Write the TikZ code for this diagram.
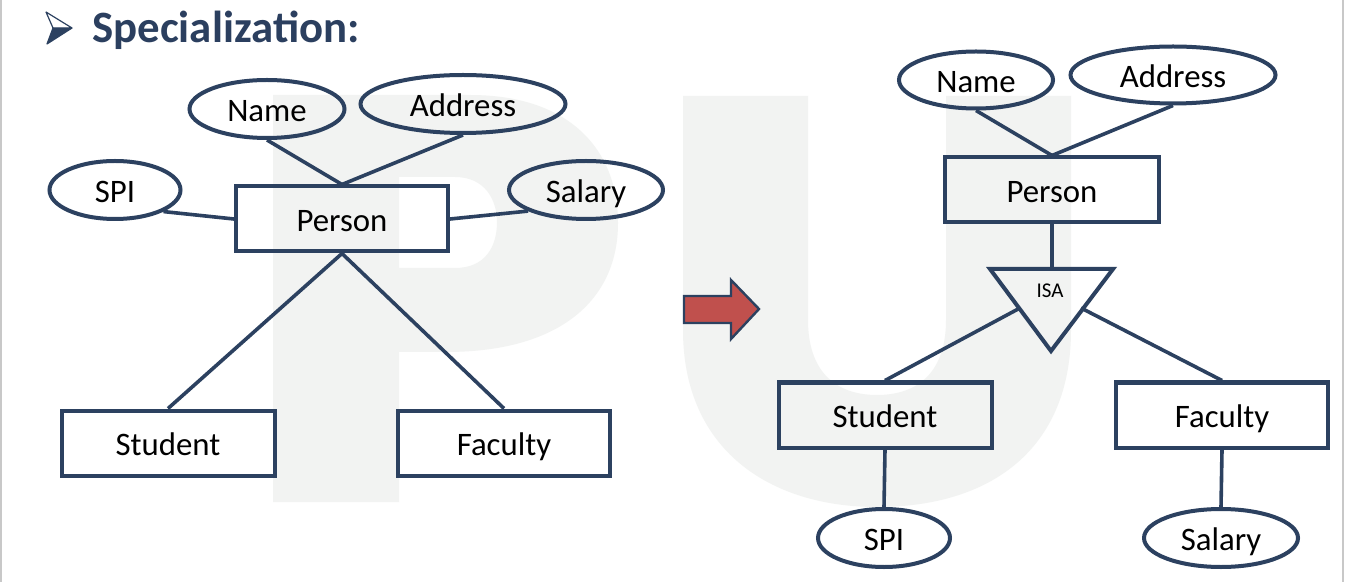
\documentclass[tikz,border=0pt]{standalone}
\usepackage{fontspec}
\setmainfont{Carlito}
\usetikzlibrary{shapes.geometric}
\definecolor{navy}{HTML}{2C4160}
\definecolor{titleblue}{HTML}{2B3F5F}
\definecolor{wmark}{HTML}{F2F3F2}
\definecolor{arrowred}{HTML}{C0504D}
\definecolor{edgegray}{HTML}{C8C8C8}
\begin{document}
\begin{tikzpicture}[x=0.5pt,y=-0.5pt,
  lbl/.style={font=\fontsize{16.4}{18}\selectfont,text height=12.1pt,text depth=0pt},
  ent/.style={lbl,draw=navy,line width=2pt,rectangle,inner sep=0pt,minimum height=32.5pt},
  attr/.style={lbl,draw=navy,line width=2pt,ellipse,inner sep=0pt,minimum height=29pt},
  conn/.style={draw=navy,line width=1.8pt}]
\useasboundingbox (0,0) rectangle (1348,582);
\fill[white] (0,0) rectangle (1348,582);
% watermark P
\fill[wmark,even odd rule] (273,95) -- (470,95) .. controls (570,95) and (618,150) .. (618,223) .. controls (618,300) and (560,352) .. (446,352) -- (399,352) -- (399,502) -- (273,502) -- cycle
  (399,177) -- (455,177) .. controls (485,177) and (497,200) .. (497,222) .. controls (497,247) and (485,268) .. (455,268) -- (399,268) -- cycle;
% watermark U
\fill[wmark] (683,96) -- (683,330) .. controls (683,450) and (770,507) .. (877,507) .. controls (990,507) and (1071,450) .. (1071,330) -- (1071,96) -- (946,96) -- (946,320) .. controls (946,370) and (920,395) .. (877,395) .. controls (834,395) and (808,370) .. (808,320) -- (808,96) -- cycle;
% page edges
\draw[edgegray,line width=0.6pt] (1,0) -- (1,582);
\draw[edgegray,line width=0.6pt] (1343,0) -- (1343,582);
% title
\fill[navy] (53,28) -- (72,28) -- (47,44) -- cycle;
\draw[navy,line width=0.6pt,line join=round] (46,12) -- (72,28) -- (53,28) -- cycle;
\draw[navy,line width=0.6pt,line join=round] (53,28) -- (47,44) -- (72,28);
\node[anchor=base west,inner sep=0pt,text=titleblue,font=\fontsize{22.4}{26}\selectfont\bfseries] (title) at (92,43) {Specialization:};
% left diagram
\node[ent,minimum width=106pt] (pL) at (342,219) {Person};
\node[ent,minimum width=106.5pt] (sL) at (168,443) {Student};
\node[ent,minimum width=106pt] (fL) at (504,443) {Faculty};
\node[attr,minimum width=77.5pt] (nL) at (267,109) {Name};
\node[attr,minimum width=102.5pt] (aL) at (463,104) {Address};
\node[attr,minimum width=65.5pt] (spL) at (115,190) {SPI};
\node[attr,minimum width=77pt] (saL) at (586,190) {Salary};
\draw[conn] (nL.south) -- (pL.north);
\draw[conn] (aL.south) -- (pL.north);
\draw[conn] (spL.-24) -- (pL.west);
\draw[conn] (saL.200) -- (pL.east);
\draw[conn] (pL.south) -- (sL.north);
\draw[conn] (pL.south) -- (fL.north);
% arrow
\filldraw[fill=arrowred,draw=navy,line width=1.2pt,line join=miter] (684,296) -- (731,296) -- (731,280) -- (759,309) -- (731,339) -- (731,323) -- (684,323) -- cycle;
% right diagram
\node[ent,minimum width=107pt] (pR) at (1052,190) {Person};
\node[ent,minimum width=106.5pt] (sR) at (885,415) {Student};
\node[ent,minimum width=106pt] (fR) at (1222,415) {Faculty};
\node[attr,minimum width=77pt,minimum height=28.5pt] (nR) at (976,80) {Name};
\node[attr,minimum width=102.5pt,minimum height=28.5pt] (aR) at (1173,75) {Address};
\node[attr,minimum width=66pt] (spR) at (884,538) {SPI};
\node[attr,minimum width=77pt] (saR) at (1221,538) {Salary};
\coordinate (isaA) at (990,269);
\coordinate (isaB) at (1113,269);
\coordinate (isaC) at (1051,351);
\coordinate (isaT) at (1052,269);
\coordinate (isaL) at (1020,308);
\coordinate (isaR) at (1081,308);
\draw[navy,line width=2pt,line join=miter] (isaA) -- (isaB) -- (isaC) -- cycle;
\node[inner sep=0pt,font=\fontsize{10.5}{12}\selectfont] (isa) at (1050,291) {ISA};
\draw[conn] (nR.south) -- (pR.north);
\draw[conn] (aR.south) -- (pR.north);
\draw[conn] (pR.south) -- (isaT);
\draw[conn] (isaL) -- (sR.north);
\draw[conn] (isaR) -- (fR.north);
\draw[conn] (sR.south) -- (spR.north);
\draw[conn] (fR.south) -- (saR.north);
\end{tikzpicture}
\end{document}
